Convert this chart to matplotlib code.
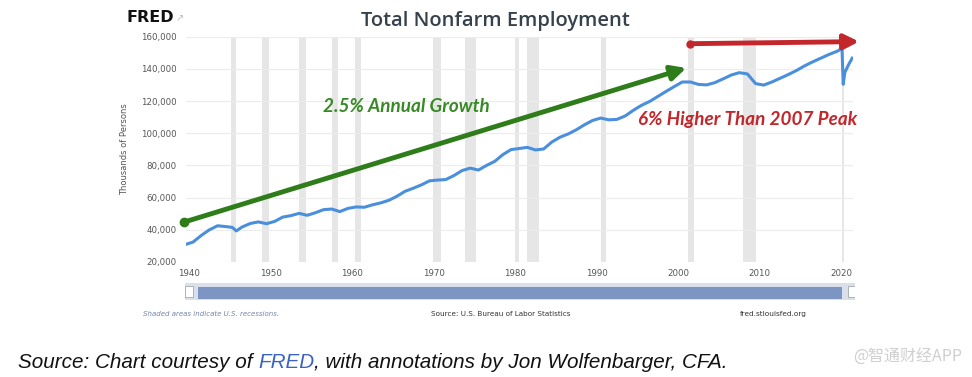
import matplotlib.pyplot as plt
from matplotlib.patches import Rectangle

# Total nonfarm employment, thousands of persons
years = [1939.65, 1940.5, 1941.5, 1942.5, 1943.5, 1944.5, 1945.3, 1945.8, 1946.5,
         1947.5, 1948.5, 1949.5, 1950.5, 1951.5, 1952.5, 1953.5, 1954.5, 1955.5,
         1956.5, 1957.5, 1958.5, 1959.5, 1960.5, 1961.5, 1962.5, 1963.5, 1964.5,
         1965.5, 1966.5, 1967.5, 1968.5, 1969.5, 1970.5, 1971.5, 1972.5, 1973.5,
         1974.5, 1975.5, 1976.5, 1977.5, 1978.5, 1979.5, 1980.5, 1981.5, 1982.5,
         1983.5, 1984.5, 1985.5, 1986.5, 1987.5, 1988.5, 1989.5, 1990.5, 1991.5,
         1992.5, 1993.5, 1994.5, 1995.5, 1996.5, 1997.5, 1998.5, 1999.5, 2000.5,
         2001.5, 2002.5, 2003.5, 2004.5, 2005.5, 2006.5, 2007.5, 2008.5, 2009.5,
         2010.5, 2011.5, 2012.5, 2013.5, 2014.5, 2015.5, 2016.5, 2017.5, 2018.5,
         2019.5, 2020.1, 2020.25, 2020.45, 2020.9, 2021.35]
employment = [31000, 32400, 36500, 40000, 42500, 42000, 41500, 39300, 41700,
              43900, 44900, 43800, 45200, 47900, 48800, 50200, 49000, 50600,
              52500, 52900, 51300, 53300, 54200, 54000, 55500, 56700, 58300,
              60800, 63900, 65800, 67900, 70400, 70900, 71200, 73700, 76800,
              78300, 77100, 80000, 82500, 86700, 89800, 90500, 91200, 89600,
              90200, 94500, 97500, 99500, 102100, 105200, 107900, 109400, 108300,
              108600, 110700, 114200, 117300, 119700, 122800, 125900, 128900, 131800,
              131800, 130300, 130000, 131400, 133700, 136100, 137600, 136800, 130800,
              129900, 131800, 134100, 136400, 138900, 141800, 144300, 146600, 148900,
              150900, 152600, 130400, 137800, 142500, 146600]

# NBER recessions (start, end)
recessions = [(1945.1, 1945.8), (1948.9, 1949.8), (1953.5, 1954.4), (1957.6, 1958.3),
              (1960.3, 1961.1), (1969.9, 1970.9), (1973.9, 1975.2), (1980.0, 1980.5),
              (1981.5, 1982.9), (1990.5, 1991.2), (2001.2, 2001.9), (2007.9, 2009.5),
              (2020.1, 2020.3)]

# annotation arrows: (x0, y0) -> (x1, y1)
growth_arrow = [(1939.4, 44800), (2001.0, 140500)]
peak_arrow = [(2001.5, 155600), (2022.2, 156900)]

fig = plt.figure(figsize=(9.72, 3.77), dpi=100)

ax = fig.add_axes([186 / 972, 1 - 262 / 377, 667 / 972, 225.4 / 377])
for r0, r1 in recessions:
    ax.axvspan(r0, r1, color='#e6e6e6', lw=0, zorder=0)
ax.plot(years, employment, color='#4a8fdc', lw=2.2, zorder=3)

ax.set_xlim(1939.63, 2021.45)
ax.set_ylim(20000, 160000)
ax.set_yticks(range(20000, 160001, 20000))
ax.set_yticklabels([f'{v:,}' for v in range(20000, 160001, 20000)])
ax.set_xticks(range(1940, 2021, 10))
ax.tick_params(axis='both', labelsize=6.2, colors='#555555', length=0)
ax.tick_params(axis='x', pad=5)
ax.tick_params(axis='y', pad=7)
ax.grid(axis='y', color='#ececec', lw=0.8)
ax.set_axisbelow(True)
for s in ax.spines.values():
    s.set_visible(False)
ax.set_ylabel('Thousands of Persons', fontsize=6, color='#555555', labelpad=8)

# annotation arrows
ax.annotate('', xy=growth_arrow[1], xytext=growth_arrow[0], annotation_clip=False,
            arrowprops=dict(arrowstyle='-|>', color='#2f7d1a', lw=3.5,
                            mutation_scale=22, shrinkA=0, shrinkB=0), zorder=5)
ax.plot(*growth_arrow[0], 'o', color='#2f7d1a', ms=6, clip_on=False, zorder=5)
ax.annotate('', xy=peak_arrow[1], xytext=peak_arrow[0], annotation_clip=False,
            arrowprops=dict(arrowstyle='-|>', color='#c3262b', lw=3.5,
                            mutation_scale=22, shrinkA=0, shrinkB=0), zorder=5)
ax.plot(*peak_arrow[0], 'o', color='#c3262b', ms=5, clip_on=False, zorder=5)

fig.text(406 / 972, 1 - 107 / 377, '2.5% Annual Growth', color='#378a25', fontsize=13.6,
         fontweight='bold', style='italic', family='Lato', ha='center', va='center')
fig.text(748 / 972, 1 - 120 / 377, '6% Higher Than 2007 Peak', color='#c3262b', fontsize=13.6,
         fontweight='bold', style='italic', family='Lato', ha='center', va='center')

# header
fig.text(495 / 972, 1 - 21 / 377, 'Total Nonfarm Employment', color='#36414c', fontsize=14.5,
         fontweight='semibold', family='Open Sans', ha='center', va='center')
fig.text(127 / 972, 1 - 17 / 377, 'FRED', color='#111111', fontsize=11.5,
         fontweight='heavy', family='DejaVu Sans', ha='left', va='center')
fig.text(180 / 972, 1 - 18 / 377, '\u2197', color='#bbbbbb', fontsize=7,
         ha='center', va='center')

# navigator strip
nav = fig.add_axes([185 / 972, 1 - 300 / 377, 670 / 972, 17 / 377])
nav.set_xlim(0, 1)
nav.set_ylim(0, 1)
nav.axis('off')
nav.add_patch(Rectangle((0, 0), 1, 1, color='#d9e0ec', lw=0))
nav.add_patch(Rectangle((0.02, 0.05), 0.96, 0.7, color='#7d95c3', lw=0))
for hx in (0.0, 0.99):
    nav.add_patch(Rectangle((hx, 0.2), 0.012, 0.6, facecolor='white', edgecolor='#999999', lw=0.5))

# footer
fig.text(143 / 972, 1 - 314 / 377, 'Shaded areas indicate U.S. recessions.', fontsize=5,
         style='italic', color='#6f86aa', ha='left', va='center')
fig.text(501 / 972, 1 - 314 / 377, 'Source: U.S. Bureau of Labor Statistics', fontsize=5.2,
         color='#333333', ha='center', va='center')
fig.text(773 / 972, 1 - 314 / 377, 'fred.stlouisfed.org', fontsize=5.3,
         color='#333333', ha='center', va='center')

# caption, with "FRED" in blue
renderer = fig.canvas.get_renderer()
x = 18 / 972
y = 1 - 362 / 377
for piece, col in [('Source: Chart courtesy of ', '#111111'), ('FRED', '#3a62c4'),
                   (', with annotations by Jon Wolfenbarger, CFA.', '#111111')]:
    t = fig.text(x, y, piece, fontsize=14.9, style='italic', family='Liberation Sans',
                 color=col, ha='left', va='center')
    bb = t.get_window_extent(renderer)
    x += bb.width / fig.bbox.width

fig.text(962 / 972, 1 - 357 / 377, '@智通财经APP', fontsize=11.5, color='#cfcfcf',
         family=['Noto Sans CJK SC', 'DejaVu Sans'], ha='right', va='center')

fig.savefig('out.png', dpi=100, facecolor='white')
